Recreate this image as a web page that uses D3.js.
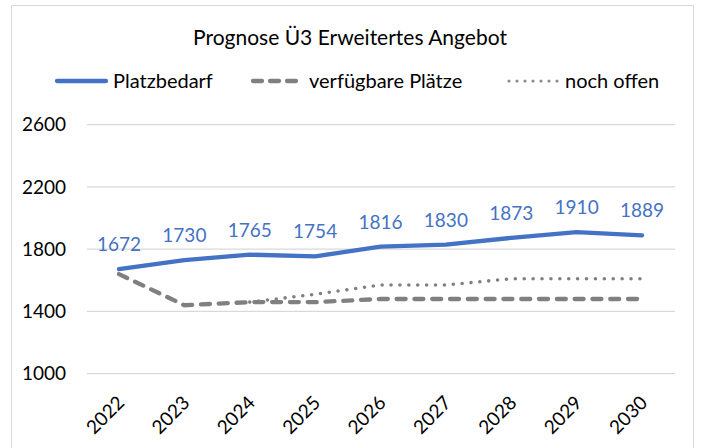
<!DOCTYPE html>
<html>
<head>
<meta charset="utf-8">
<script src="https://d3js.org/d3.v7.min.js"></script>
<style>
  body { margin: 0; background: #fff; }
  text { font-family: Lato, "Open Sans", sans-serif; fill: #000; }
  .grid line { stroke: #d9d9d9; stroke-width: 1.3; }
</style>
</head>
<body>
<svg id="chart" width="701" height="448"></svg>
<script>
var years = ["2022", "2023", "2024", "2025", "2026", "2027", "2028", "2029", "2030"];
var platzbedarf = [1672, 1730, 1765, 1754, 1816, 1830, 1873, 1910, 1889];
var verfuegbar = [1640, 1440, 1460, 1460, 1480, 1480, 1480, 1480, 1480];
var nochOffen = [null, null, 1460, 1510, 1570, 1570, 1610, 1610, 1610];
var yTicks = [1000, 1400, 1800, 2200, 2600];

var svg = d3.select("#chart");

// chart frame
svg.append("rect")
    .attr("x", 11.5).attr("y", 5.5)
    .attr("width", 682).attr("height", 470)
    .attr("fill", "#fff")
    .attr("stroke", "#d9d9d9");

var x = d3.scalePoint().domain(years).range([119, 642]);
var y = d3.scaleLinear().domain([1000, 2600]).range([373.7, 124.7]);

// gridlines
svg.append("g").attr("class", "grid")
    .selectAll("line").data(yTicks).enter().append("line")
    .attr("x1", 87).attr("x2", 675)
    .attr("y1", function(d) { return y(d); })
    .attr("y2", function(d) { return y(d); });

// y axis labels
var yAxis = d3.axisLeft(y).tickValues(yTicks).tickFormat(d3.format("d")).tickSize(0).tickPadding(0);
var yg = svg.append("g").attr("transform", "translate(66,0)").call(yAxis);
yg.select(".domain").remove();
yg.selectAll("text").style("font-size", "19px").attr("fill", "#000");

// x axis labels, rotated
var xAxis = d3.axisBottom(x).tickSize(0).tickPadding(0);
var xg = svg.append("g").attr("transform", "translate(0,400)").call(xAxis);
xg.select(".domain").remove();
xg.selectAll("text")
    .style("font-size", "19px")
    .attr("fill", "#000")
    .attr("text-anchor", "end")
    .attr("dy", null)
    .attr("y", 0)
    .attr("transform", "translate(6,4) rotate(-45)");

function makeLine(vals) {
    return d3.line()
        .defined(function(d) { return d != null; })
        .x(function(d, i) { return x(years[i]); })
        .y(function(d) { return y(d); })(vals);
}

svg.append("path")
    .attr("d", makeLine(nochOffen))
    .attr("fill", "none")
    .attr("stroke", "#808080")
    .attr("stroke-width", 3.6)
    .attr("stroke-linecap", "round")
    .attr("stroke-dasharray", "0 8.9");

svg.append("path")
    .attr("d", makeLine(verfuegbar))
    .attr("fill", "none")
    .attr("stroke", "#808080")
    .attr("stroke-width", 4.3)
    .attr("stroke-linecap", "round")
    .attr("stroke-dasharray", "9 8.8");

svg.append("path")
    .attr("d", makeLine(platzbedarf))
    .attr("fill", "none")
    .attr("stroke", "#4472c4")
    .attr("stroke-width", 4.3)
    .attr("stroke-linecap", "round")
    .attr("stroke-linejoin", "round");

// data labels
svg.selectAll(".lbl").data(platzbedarf).enter().append("text")
    .attr("class", "lbl")
    .attr("x", function(d, i) { return x(years[i]); })
    .attr("y", function(d) { return y(d) - 18; })
    .attr("text-anchor", "middle")
    .style("font-size", "19px")
    .style("fill", "#4472c4")
    .text(function(d) { return d; });

// title
svg.append("text")
    .attr("x", 350).attr("y", 45)
    .attr("text-anchor", "middle")
    .style("font-size", "21px")
    .text("Prognose Ü3 Erweitertes Angebot");

// legend
var legend = [
    { name: "Platzbedarf", x: 57, color: "#4472c4", dash: null, w: 4.3 },
    { name: "verfügbare Plätze", x: 253, color: "#808080", dash: "9 8", w: 4.3 },
    { name: "noch offen", x: 509, color: "#8c8c8c", dash: "0 8", w: 3.2 }
];
var lg = svg.append("g").selectAll("g").data(legend).enter().append("g");
lg.append("line")
    .attr("x1", function(d) { return d.x; })
    .attr("x2", function(d) { return d.x + 49; })
    .attr("y1", 81).attr("y2", 81)
    .attr("stroke", function(d) { return d.color; })
    .attr("stroke-width", function(d) { return d.w; })
    .attr("stroke-linecap", "round")
    .attr("stroke-dasharray", function(d) { return d.dash; });
lg.append("text")
    .attr("x", function(d) { return d.x + 56; })
    .attr("y", 88)
    .style("font-size", "20px")
    .text(function(d) { return d.name; });
</script>
</body>
</html>
